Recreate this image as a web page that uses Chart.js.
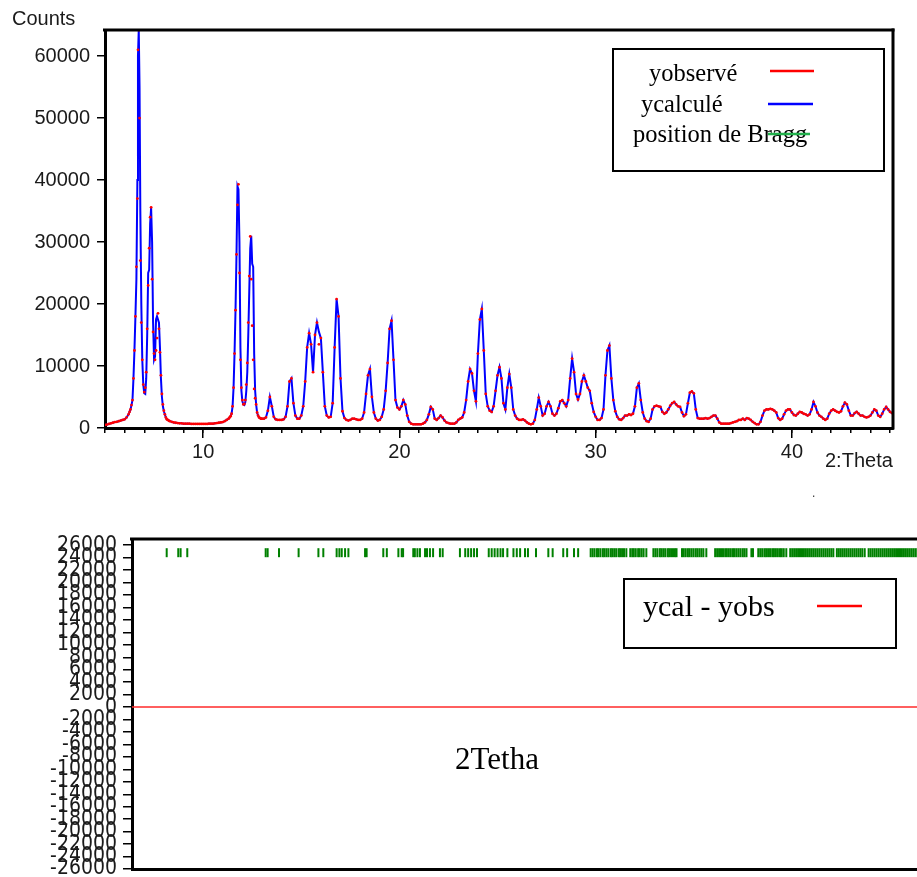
<!DOCTYPE html>
<html>
<head>
<meta charset="utf-8">
<script src="https://cdn.jsdelivr.net/npm/chart.js@4.4.1/dist/chart.umd.min.js"></script>
<style>
html, body { margin: 0; padding: 0; background: #fff; overflow: hidden; }
#wrap { position: relative; width: 917px; height: 877px; overflow: hidden; }
#topChart { position: absolute; left: 0; top: 0; }
#botChart { position: absolute; left: 0; top: 500px; }
</style>
</head>
<body>
<div id="wrap">
  <canvas id="topChart" width="917" height="500"></canvas>
  <canvas id="botChart" width="940" height="400"></canvas>
</div>
<script>
// 2theta positions of the scan (finer around the strong low-angle peaks)
const twoTheta = [
  5.0, 5.1, 5.2, 5.3, 5.4, 5.5, 5.6, 5.7, 5.8, 5.9, 6.0, 6.1, 6.2,
  6.25, 6.30, 6.35, 6.40, 6.45, 6.50, 6.55, 6.60, 6.65, 6.68, 6.72, 6.76,
  6.80, 6.85, 6.90, 6.95, 7.00, 7.05, 7.10, 7.15, 7.20, 7.25,
  7.30, 7.35, 7.40, 7.45, 7.50, 7.55, 7.60, 7.65, 7.70, 7.75,
  7.80, 7.85, 7.90, 7.95, 8.00, 8.05, 8.10, 8.15, 8.20, 8.25, 8.30,
  8.4, 8.5, 8.6, 8.7, 8.8, 8.9, 9.0, 9.1, 9.2, 9.3,
  9.4, 9.5, 9.6, 9.7, 9.8, 9.9, 10.0, 10.1, 10.2, 10.3,
  10.4, 10.5, 10.6, 10.7, 10.8, 10.9, 11.0, 11.1, 11.2, 11.3,
  11.35, 11.40, 11.45, 11.50, 11.55, 11.60, 11.65, 11.70, 11.75, 11.80,
  11.85, 11.90, 11.95, 12.00, 12.05, 12.10, 12.15, 12.20, 12.25, 12.30,
  12.35, 12.40, 12.45, 12.50, 12.55, 12.60, 12.65, 12.70, 12.75, 12.80,
  12.85, 12.90, 12.95,
  13.0, 13.1, 13.2, 13.3, 13.4, 13.5, 13.6, 13.7, 13.8, 13.9,
  14.0, 14.1, 14.2, 14.3, 14.4, 14.5, 14.6, 14.7, 14.8, 14.9,
  15.0, 15.1, 15.2, 15.3, 15.4, 15.5, 15.6, 15.7, 15.8, 15.9,
  16.0, 16.1, 16.2, 16.3, 16.4, 16.5, 16.6, 16.7, 16.8, 16.9,
  17.0, 17.1, 17.2, 17.3, 17.4, 17.5, 17.6, 17.7, 17.8, 17.9,
  18.0, 18.1, 18.2, 18.3, 18.4, 18.5, 18.6, 18.7, 18.8, 18.9,
  19.0, 19.1, 19.2, 19.3, 19.4, 19.5, 19.6, 19.7, 19.8, 19.9,
  20.0, 20.1, 20.2, 20.3, 20.4, 20.5, 20.6, 20.7, 20.8, 20.9,
  21.0, 21.1, 21.2, 21.3, 21.4, 21.5, 21.6, 21.7, 21.8, 21.9,
  22.0, 22.1, 22.2, 22.3, 22.4, 22.5, 22.6, 22.7, 22.8, 22.9,
  23.0, 23.1, 23.2, 23.3, 23.4, 23.5, 23.6, 23.7, 23.8, 23.9,
  24.0, 24.1, 24.2, 24.3, 24.4, 24.5, 24.6, 24.7, 24.8, 24.9,
  25.0, 25.1, 25.2, 25.3, 25.4, 25.5, 25.6, 25.7, 25.8, 25.9,
  26.0, 26.1, 26.2, 26.3, 26.4, 26.5, 26.6, 26.7, 26.8, 26.9,
  27.0, 27.1, 27.2, 27.3, 27.4, 27.5, 27.6, 27.7, 27.8, 27.9,
  28.0, 28.1, 28.2, 28.3, 28.4, 28.5, 28.6, 28.7, 28.8, 28.9,
  29.0, 29.1, 29.2, 29.3, 29.4, 29.5, 29.6, 29.7, 29.8, 29.9,
  30.0, 30.1, 30.2, 30.3, 30.4, 30.5, 30.6, 30.7, 30.8, 30.9,
  31.0, 31.1, 31.2, 31.3, 31.4, 31.5, 31.6, 31.7, 31.8, 31.9,
  32.0, 32.1, 32.2, 32.3, 32.4, 32.5, 32.6, 32.7, 32.8, 32.9,
  33.0, 33.1, 33.2, 33.3, 33.4, 33.5, 33.6, 33.7, 33.8, 33.9,
  34.0, 34.1, 34.2, 34.3, 34.4, 34.5, 34.6, 34.7, 34.8, 34.9,
  35.0, 35.1, 35.2, 35.3, 35.4, 35.5, 35.6, 35.7, 35.8, 35.9,
  36.0, 36.1, 36.2, 36.3, 36.4, 36.5, 36.6, 36.7, 36.8, 36.9,
  37.0, 37.1, 37.2, 37.3, 37.4, 37.5, 37.6, 37.7, 37.8, 37.9,
  38.0, 38.1, 38.2, 38.3, 38.4, 38.5, 38.6, 38.7, 38.8, 38.9,
  39.0, 39.1, 39.2, 39.3, 39.4, 39.5, 39.6, 39.7, 39.8, 39.9,
  40.0, 40.1, 40.2, 40.3, 40.4, 40.5, 40.6, 40.7, 40.8, 40.9,
  41.0, 41.1, 41.2, 41.3, 41.4, 41.5, 41.6, 41.7, 41.8, 41.9,
  42.0, 42.1, 42.2, 42.3, 42.4, 42.5, 42.6, 42.7, 42.8, 42.9,
  43.0, 43.1, 43.2, 43.3, 43.4, 43.5, 43.6, 43.7, 43.8, 43.9,
  44.0, 44.1, 44.2, 44.3, 44.4, 44.5, 44.6, 44.7, 44.8, 44.9,
  45.0, 45.1, 45.2
];

// observed counts (red dots)
const yObs = [
  500, 550, 650, 750, 850, 950, 1000, 1100, 1200, 1300, 1400, 1700, 2200,
  2600, 3000, 3700, 4500, 8000, 12500, 18000, 26000, 37000, 61000, 64200, 50000,
  27000, 17000, 11000, 7000, 5800, 6500, 9000, 16000, 23000, 29000,
  34000, 35600, 24000, 15500, 12000, 11000, 12500, 14500, 18500, 16000,
  12200, 8500, 5500, 3800, 2800, 2200, 1700, 1400, 1300, 1200, 1100,
  1000, 900, 850, 800, 750, 750, 700, 700, 700, 700,
  650, 650, 650, 650, 650, 650, 650, 650, 650, 700,
  700, 700, 750, 800, 850, 900, 950, 1100, 1300, 1500,
  1700, 1900, 2300, 3500, 6500, 12000, 19000, 28000, 36000, 39300,
  25000, 11000, 6500, 4500, 3800, 3900, 4500, 7000, 10500, 17000,
  24500, 30900, 24000, 16500, 11000, 6300, 4800, 3800, 2500, 2000,
  1700, 1600, 1500,
  1500, 1500, 1700, 2800, 5000, 3500, 1800, 1400, 1300, 1300,
  1300, 1400, 1800, 3500, 7500, 8000, 4000, 2000, 1500, 1500,
  2000, 3500, 7500, 13000, 15300, 13500, 9000, 15000, 17000, 13500,
  14500, 9000, 3500, 2000, 1700, 1800, 4000, 13000, 20800, 18000,
  8000, 2700, 1600, 1300, 1200, 1300, 1500, 1500, 1400, 1300,
  1300, 1500, 2500, 5500, 8500, 9500, 5000, 2500, 1500, 1200,
  1300, 1800, 3000, 6000, 10500, 16000, 17300, 11000, 4500, 3300,
  3000, 3500, 4500, 3800, 2000, 1000, 700, 600, 600, 600,
  600, 600, 700, 900, 1300, 2200, 3400, 3000, 1500, 1300,
  1600, 2000, 1700, 1200, 900, 800, 700, 700, 700, 900,
  1300, 1500, 1700, 2500, 4500, 7500, 9500, 8800, 6000, 4300,
  12000, 17500, 19200, 12500, 5500, 3500, 2800, 2600, 3500, 6000,
  8500, 9800, 8000, 4000, 3000, 6500, 8700, 6500, 3000, 2000,
  1500, 1300, 1300, 1400, 1200, 900, 700, 600, 700, 1300,
  3000, 4900, 3500, 2000, 2300, 3500, 4200, 3500, 2300, 2000,
  2300, 3200, 4300, 4500, 4000, 3500, 4500, 8000, 11200, 9000,
  5500, 4600, 5500, 7500, 8500, 7500, 6500, 6000, 4000, 2600,
  1800, 1300, 1300, 1600, 3000, 8500, 12500, 13300, 8000, 4500,
  2700, 1800, 1400, 1300, 1600, 2000, 2000, 2200, 2100, 2300,
  3500, 6500, 7200, 4500, 2500, 1500, 1100, 1000, 1500, 3000,
  3500, 3600, 3500, 3400, 2600, 2300, 2500, 3000, 3600, 4000,
  4200, 3800, 3500, 3400, 2500, 1900, 2200, 4000, 5700, 5900,
  5600, 3000, 1600, 1500, 1500, 1500, 1600, 1500, 1600, 1800,
  2000, 2000, 1500, 900, 700, 700, 700, 700, 700, 800,
  900, 1000, 1100, 1300, 1300, 1500, 1300, 1600, 1500, 1300,
  1000, 800, 600, 600, 1000, 2000, 2800, 3000, 3000, 3100,
  3000, 2800, 2500, 1600, 1300, 1500, 2200, 2800, 3000, 3000,
  2500, 2100, 2000, 2300, 2600, 2500, 2300, 2200, 2000, 2200,
  3000, 4200, 3500, 2500, 2000, 1800, 1500, 1300, 1500, 2300,
  2800, 3000, 2800, 2600, 2500, 2700, 3500, 4100, 3800, 2800,
  2000, 2000, 2400, 2600, 2300, 2000, 2000, 1800, 1700, 1800,
  2000, 2500, 3000, 2800, 2000, 1800, 2300, 3000, 3400, 3000,
  2600, 2400, 2600
];

// calculated profile (blue line)
const yCalc = [
  500, 550, 650, 750, 850, 950, 1000, 1100, 1200, 1300, 1400, 1700, 2200,
  2600, 3000, 3700, 4500, 8000, 12500, 18000, 24000, 40000, 60000, 64200, 55000,
  35000, 20000, 11000, 7000, 5600, 5500, 8000, 15000, 25000, 25500,
  33000, 35500, 30000, 17000, 11000, 11500, 17500, 18000, 18000, 17000,
  13000, 8000, 5000, 3500, 2700, 2200, 1700, 1400, 1300, 1200, 1100,
  1000, 900, 850, 800, 750, 750, 700, 700, 700, 700,
  650, 650, 650, 650, 650, 650, 650, 650, 650, 700,
  700, 700, 750, 800, 850, 900, 950, 1100, 1300, 1500,
  1700, 1900, 2300, 3500, 6500, 12000, 19000, 28000, 39000, 38500,
  30000, 13000, 6000, 4300, 3800, 3700, 4200, 6000, 9000, 15000,
  22000, 29000, 31000, 26500, 26000, 12000, 6000, 3800, 2500, 2000,
  1700, 1600, 1500,
  1500, 1500, 1700, 2800, 5000, 3500, 1800, 1400, 1300, 1300,
  1300, 1400, 1800, 3500, 7500, 8000, 4000, 2000, 1500, 1500,
  2000, 3500, 7500, 13000, 15300, 13500, 9000, 15000, 17000, 15500,
  14500, 9000, 3500, 2000, 1700, 1800, 4000, 13000, 20800, 18000,
  8000, 2700, 1600, 1300, 1200, 1300, 1500, 1500, 1400, 1300,
  1300, 1500, 2500, 5500, 8500, 9500, 5000, 2500, 1500, 1200,
  1300, 1800, 3000, 6000, 10500, 16000, 17300, 11000, 4500, 3300,
  3000, 3500, 4500, 3800, 2000, 1000, 700, 600, 600, 600,
  600, 600, 700, 900, 1300, 2200, 3400, 3000, 1500, 1300,
  1600, 2000, 1700, 1200, 900, 800, 700, 700, 700, 900,
  1300, 1500, 1700, 2500, 4500, 7500, 9500, 8800, 6000, 4300,
  12000, 17500, 19200, 12500, 5500, 3500, 2800, 2600, 3500, 6000,
  8500, 9800, 8000, 4000, 3000, 6500, 8700, 6500, 3000, 2000,
  1500, 1300, 1300, 1400, 1200, 900, 700, 600, 700, 1300,
  3000, 4900, 3500, 2000, 2300, 3500, 4200, 3500, 2300, 2000,
  2300, 3200, 4300, 4500, 4000, 3500, 4500, 8000, 11200, 9000,
  5500, 4600, 5500, 7500, 8500, 7500, 6500, 6000, 4000, 2600,
  1800, 1300, 1300, 1600, 3000, 8500, 12500, 13300, 8000, 4500,
  2700, 1800, 1400, 1300, 1600, 2000, 2000, 2200, 2100, 2300,
  3500, 6500, 7200, 4500, 2500, 1500, 1100, 1000, 1500, 3000,
  3500, 3600, 3500, 3400, 2600, 2300, 2500, 3000, 3600, 4000,
  4200, 3800, 3500, 3400, 2500, 1900, 2200, 4000, 5700, 5900,
  5600, 3000, 1600, 1500, 1500, 1500, 1600, 1500, 1600, 1800,
  2000, 2000, 1500, 900, 700, 700, 700, 700, 700, 800,
  900, 1000, 1100, 1300, 1300, 1500, 1300, 1600, 1500, 1300,
  1000, 800, 600, 600, 1000, 2000, 2800, 3000, 3000, 3100,
  3000, 2800, 2500, 1600, 1300, 1500, 2200, 2800, 3000, 3000,
  2500, 2100, 2000, 2300, 2600, 2500, 2300, 2200, 2000, 2200,
  3000, 4200, 3500, 2500, 2000, 1800, 1500, 1300, 1500, 2300,
  2800, 3000, 2800, 2600, 2500, 2700, 3500, 4100, 3800, 2800,
  2000, 2000, 2400, 2600, 2300, 2000, 2000, 1800, 1700, 1800,
  2000, 2500, 3000, 2800, 2000, 1800, 2300, 3000, 3400, 3000,
  2600, 2400, 2600
];

// Bragg reflections (green ticks on the difference plot)
const braggPos = [
  6.77, 7.36, 7.48, 7.82, 11.82, 11.92, 12.5, 13.5, 14.51, 14.76,
  15.44, 15.58, 15.7, 15.87, 16.04, 16.89, 16.97, 17.82, 18.0, 18.59,
  18.76, 18.83, 19.35, 19.43, 19.56, 19.69, 19.95, 20.05, 20.2, 20.36,
  20.71, 20.85, 21.73, 22.0, 22.15, 22.3, 22.45, 22.6, 23.2, 23.35,
  23.5, 23.65, 23.8, 23.93, 24.15, 24.46, 24.63, 24.8, 25.05, 25.2,
  25.61, 26.24, 26.46, 27.0, 27.2, 27.55, 27.76,
  28.4, 28.5, 28.6, 28.72, 28.8, 28.9, 29.02, 29.1, 29.2, 29.3,
  29.42, 29.5, 29.6, 29.7, 29.82, 29.9, 30.0, 30.1, 30.22,
  30.42, 30.52, 30.6, 30.7, 30.82, 30.9, 31.0, 31.1, 31.24,
  31.6, 31.7, 31.8, 31.92, 32.0, 32.1, 32.2, 32.32, 32.4, 32.5, 32.6, 32.7, 32.78,
  33.06, 33.15, 33.25, 33.36, 33.45, 33.55, 33.65, 33.76, 33.85, 33.95, 34.05, 34.15, 34.3,
  34.75, 34.85, 34.95, 35.05, 35.15, 35.26, 35.35, 35.45, 35.55, 35.66,
  35.75, 35.85, 35.95, 36.05, 36.16, 36.25, 36.35, 36.6, 36.68,
  36.95, 37.05, 37.15, 37.26, 37.35, 37.45, 37.55, 37.66, 37.75, 37.85,
  37.95, 38.06, 38.15, 38.25, 38.38,
  38.58, 38.68, 38.78, 38.88, 38.98, 39.08, 39.18, 39.28, 39.38, 39.48,
  39.58, 39.68, 39.78, 39.88, 39.98, 40.08, 40.18, 40.28, 40.38, 40.48,
  40.58, 40.68, 40.78,
  40.96, 41.06, 41.16, 41.26, 41.36, 41.46, 41.56, 41.66, 41.76, 41.86,
  41.96, 42.06, 42.16, 42.26, 42.38,
  42.58, 42.68, 42.78, 42.88, 42.98, 43.08, 43.18, 43.28, 43.38, 43.48,
  43.58, 43.68, 43.78, 43.88, 43.98, 44.08, 44.18, 44.28, 44.38, 44.48,
  44.58, 44.68, 44.78, 44.88, 44.98, 45.08
];

// difference curve ycal - yobs (flat at zero in the picture)
const diffTheta = [5.0, 45.15];
const diffValues = [0, 0];

// tick values
const xMajorTicks = [10, 20, 30, 40];
const xMinorTicks = [5, 6, 7, 8, 9, 10, 11, 12, 13, 14, 15, 16, 17, 18, 19, 20, 21, 22, 23, 24, 25,
  26, 27, 28, 29, 30, 31, 32, 33, 34, 35, 36, 37, 38, 39, 40, 41, 42, 43, 44, 45];
const countTicks = [0, 10000, 20000, 30000, 40000, 50000, 60000];
const diffTicks = [-26000, -24000, -22000, -20000, -18000, -16000, -14000, -12000, -10000, -8000,
  -6000, -4000, -2000, 0, 2000, 4000, 6000, 8000, 10000, 12000, 14000, 16000, 18000, 20000,
  22000, 24000, 26000];

Chart.defaults.font.family = "'Liberation Sans', Arial, sans-serif";
Chart.defaults.color = '#1a1a1a';

const SERIF = "'Liberation Serif', 'Times New Roman', serif";
const NARROW = "'DejaVu Sans Condensed', sans-serif";
const useTicks = list => scale => { scale.ticks = list.map(v => ({ value: v })); };

// frame lines, legend boxes and free texts drawn on top
const decor = {
  id: 'decor',
  afterDraw(chart, args, opts) {
    const ctx = chart.ctx, a = chart.chartArea;
    ctx.save();
    ctx.strokeStyle = '#000';
    ctx.lineWidth = 3;
    if (opts.frameTop) {
      ctx.beginPath(); ctx.moveTo(a.left - 2, a.top); ctx.lineTo(a.right + 1.5, a.top); ctx.stroke();
    }
    if (opts.frameRight) {
      ctx.beginPath(); ctx.moveTo(a.right, a.top - 1.5); ctx.lineTo(a.right, a.bottom + 1.5); ctx.stroke();
    }
    (opts.boxes || []).forEach(b => {
      ctx.fillStyle = '#fff';
      ctx.fillRect(b.x, b.y, b.w, b.h);
      ctx.lineWidth = 2;
      ctx.strokeStyle = '#000';
      ctx.strokeRect(b.x, b.y, b.w, b.h);
    });
    (opts.texts || []).forEach(t => {
      ctx.font = t.font;
      ctx.fillStyle = t.color || '#000';
      ctx.textAlign = 'left';
      ctx.textBaseline = 'alphabetic';
      ctx.fillText(t.text, t.x, t.y);
    });
    (opts.swatches || []).forEach(s => {
      ctx.strokeStyle = s.color;
      ctx.lineWidth = 2.5;
      ctx.beginPath(); ctx.moveTo(s.x1, s.y); ctx.lineTo(s.x2, s.y); ctx.stroke();
    });
    ctx.restore();
  }
};

const obsPoints = twoTheta.map((t, i) => ({ x: t, y: yObs[i] }));
const calcPoints = twoTheta.map((t, i) => ({ x: t, y: yCalc[i] }));

new Chart(document.getElementById('topChart'), {
  type: 'scatter',
  data: {
    datasets: [
      {
        label: 'yobservé',
        data: obsPoints,
        showLine: false,
        pointRadius: 1.4,
        pointBorderWidth: 0,
        pointBackgroundColor: '#ff0000'
      },
      {
        label: 'ycalculé',
        data: calcPoints,
        showLine: true,
        borderColor: '#0000ff',
        borderWidth: 2,
        pointRadius: 0,
        tension: 0
      }
    ]
  },
  options: {
    responsive: false,
    animation: false,
    devicePixelRatio: 1,
    events: [],
    layout: { padding: { top: 30, right: 24, left: 0, bottom: 0 } },
    plugins: {
      legend: { display: false },
      tooltip: { enabled: false },
      decor: {
        frameTop: true,
        frameRight: true,
        boxes: [{ x: 613, y: 49, w: 271, h: 122 }],
        texts: [
          { text: 'Counts', x: 12, y: 25, font: "20px 'Liberation Sans', Arial, sans-serif", color: '#1a1a1a' },
          { text: '2:Theta', x: 825, y: 467, font: "20px 'Liberation Sans', Arial, sans-serif", color: '#1a1a1a' },
          { text: '.', x: 812, y: 497, font: "12px 'Liberation Sans', Arial, sans-serif", color: '#333' },
          { text: 'yobservé', x: 649, y: 81, font: '24.5px ' + SERIF },
          { text: 'ycalculé', x: 641, y: 112, font: '24.5px ' + SERIF },
          { text: 'position de Bragg', x: 633, y: 142, font: '24.5px ' + SERIF }
        ],
        swatches: [
          { x1: 770, x2: 814, y: 71, color: '#ff0000' },
          { x1: 768, x2: 813, y: 104, color: '#0000ff' },
          { x1: 768, x2: 810, y: 134, color: '#22b14c' }
        ]
      }
    },
    scales: {
      xMinor: {
        type: 'linear',
        position: 'bottom',
        weight: 0,
        min: 5, max: 45.15,
        afterBuildTicks: useTicks(xMinorTicks),
        afterFit: s => { s.height = 0; },
        ticks: { display: false, autoSkip: false },
        grid: { drawOnChartArea: false, drawTicks: true, tickLength: 5, color: '#000', lineWidth: 1.5 },
        border: { display: true, color: '#000', width: 3 }
      },
      x: {
        type: 'linear',
        position: 'bottom',
        weight: 1,
        min: 5, max: 45.15,
        afterBuildTicks: useTicks(xMajorTicks),
        afterFit: s => { s.height = 72; },
        ticks: {
          autoSkip: false, maxRotation: 0, padding: 2,
          font: { size: 20 }, color: '#1a1a1a',
          callback: v => String(v)
        },
        grid: { drawOnChartArea: false, drawTicks: true, tickLength: 10, color: '#000', lineWidth: 1.5 },
        border: { display: true, color: '#000', width: 3 }
      },
      y: {
        type: 'linear',
        min: 0, max: 64200,
        afterBuildTicks: useTicks(countTicks),
        afterFit: s => { s.width = 105; },
        ticks: {
          autoSkip: false, padding: 7,
          font: { size: 20 }, color: '#1a1a1a',
          callback: v => String(v)
        },
        grid: { drawOnChartArea: false, drawTicks: true, tickLength: 8, color: '#000', lineWidth: 1.5 },
        border: { display: true, color: '#000', width: 3 }
      }
    }
  },
  plugins: [decor]
});

new Chart(document.getElementById('botChart'), {
  type: 'scatter',
  data: {
    datasets: [
      {
        label: 'ycal - yobs',
        data: diffTheta.map((t, i) => ({ x: t, y: diffValues[i] })),
        showLine: true,
        borderColor: '#ff2a2a',
        borderWidth: 1.5,
        pointRadius: 0
      },
      {
        label: 'position de Bragg',
        data: braggPos.map(t => ({ x: t, y: 24800 })),
        showLine: false,
        pointStyle: 'line',
        rotation: 90,
        pointRadius: 4.5,
        pointBorderColor: '#008000',
        pointBorderWidth: 2
      }
    ]
  },
  options: {
    responsive: false,
    animation: false,
    devicePixelRatio: 1,
    events: [],
    layout: { padding: { top: 39, right: 21, left: 0, bottom: 0 } },
    plugins: {
      legend: { display: false },
      tooltip: { enabled: false },
      decor: {
        frameTop: true,
        boxes: [{ x: 624, y: 79, w: 272, h: 69 }],
        texts: [
          { text: 'ycal - yobs', x: 643, y: 116, font: '30px ' + SERIF },
          { text: '2Tetha', x: 455, y: 269, font: '31px ' + SERIF }
        ],
        swatches: [
          { x1: 817, x2: 862, y: 106, color: '#ff0000' }
        ]
      }
    },
    scales: {
      x: {
        type: 'linear',
        min: 5, max: 45.15,
        afterFit: s => { s.height = 31; },
        ticks: { display: false },
        grid: { drawOnChartArea: false, drawTicks: false, color: '#000' },
        border: { display: true, color: '#000', width: 3 }
      },
      y: {
        type: 'linear',
        min: -26000, max: 27000,
        afterBuildTicks: useTicks(diffTicks),
        afterFit: s => { s.width = 132; },
        ticks: {
          autoSkip: false, padding: 6,
          font: { size: 21, family: NARROW }, color: '#1a1a1a',
          callback: v => String(v)
        },
        grid: { drawOnChartArea: false, drawTicks: true, tickLength: 9, color: '#000', lineWidth: 1.5 },
        border: { display: true, color: '#000', width: 3 }
      }
    }
  },
  plugins: [decor]
});
</script>
</body>
</html>
